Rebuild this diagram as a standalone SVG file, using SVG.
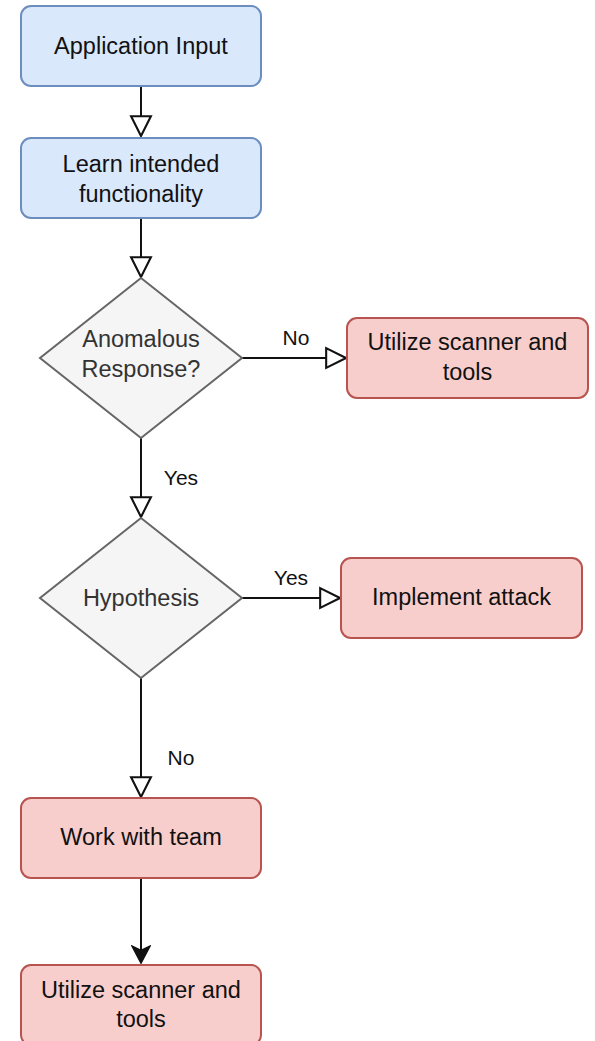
<svg xmlns="http://www.w3.org/2000/svg" width="595" height="1041" viewBox="0 0 595 1041">
  <style>
    .blue { fill: #dae8fc; stroke: #6c8ebf; stroke-width: 2; }
    .red { fill: #f8cecc; stroke: #b85450; stroke-width: 2; }
    .gray { fill: #f5f5f5; stroke: #666666; stroke-width: 2; }
    .txt { font-family: "Liberation Sans", Arial, sans-serif; font-size: 23.5px; fill: #111111; text-anchor: middle; }
    .dtxt { font-family: "Liberation Sans", Arial, sans-serif; font-size: 23.5px; fill: #333333; text-anchor: middle; }
    .lbl { font-family: "Liberation Sans", Arial, sans-serif; font-size: 21px; fill: #111111; text-anchor: middle; }
    .edge { fill: none; stroke: #111111; stroke-width: 2; }
  </style>
  <defs>
    <marker id="open" markerUnits="userSpaceOnUse" markerWidth="24" markerHeight="24" viewBox="-2 -2 23 23" refX="19" refY="9.5" orient="auto">
      <path d="M0,0 L19,9.5 L0,19 Z" fill="#ffffff" stroke="#111111" stroke-width="2" stroke-linejoin="miter"/>
    </marker>
    <marker id="solid" markerUnits="userSpaceOnUse" markerWidth="20" markerHeight="20" viewBox="-1 -1 19 19" refX="16" refY="8.5" orient="auto">
      <path d="M0,0 L16,8.5 L0,17 L4,8.5 Z" fill="#111111" stroke="#111111" stroke-width="1.5" stroke-linejoin="miter"/>
    </marker>
  </defs>

  <!-- connectors -->
  <g id="connectors">
    <path class="edge" d="M141,87 L141,136" marker-end="url(#open)"/>
    <path class="edge" d="M141,218 L141,277" marker-end="url(#open)"/>
    <path class="edge" d="M242,358 L346,358" marker-end="url(#open)"/>
    <text class="lbl" x="296" y="345">No</text>
    <path class="edge" d="M141,438 L141,517" marker-end="url(#open)"/>
    <text class="lbl" x="181" y="485">Yes</text>
    <path class="edge" d="M242,598 L340,598" marker-end="url(#open)"/>
    <text class="lbl" x="291" y="585">Yes</text>
    <path class="edge" d="M141,678 L141,797" marker-end="url(#open)"/>
    <text class="lbl" x="181" y="765">No</text>
    <path class="edge" d="M141,878 L141,963" marker-end="url(#solid)"/>
  </g>

  <g id="application-input">
    <rect class="blue" x="21" y="6" width="240" height="80" rx="10"/>
    <text class="txt" x="141" y="54">Application Input</text>
  </g>

  <g id="learn-functionality">
    <rect class="blue" x="21" y="138" width="240" height="80" rx="10"/>
    <text class="txt" x="141" y="172">Learn intended</text>
    <text class="txt" x="141" y="202">functionality</text>
  </g>

  <g id="anomalous-response">
    <polygon class="gray" points="141,278 242,358 141,438 40,358"/>
    <text class="dtxt" x="141" y="347">Anomalous</text>
    <text class="dtxt" x="141" y="377">Response?</text>
  </g>

  <g id="scanner-tools-1">
    <rect class="red" x="347" y="318" width="241" height="80" rx="10"/>
    <text class="txt" x="467.5" y="350">Utilize scanner and</text>
    <text class="txt" x="467.5" y="380">tools</text>
  </g>

  <g id="hypothesis">
    <polygon class="gray" points="141,518 242,598 141,678 40,598"/>
    <text class="dtxt" x="141" y="606">Hypothesis</text>
  </g>

  <g id="implement-attack">
    <rect class="red" x="341" y="558" width="241" height="80" rx="10"/>
    <text class="txt" x="461.5" y="605">Implement attack</text>
  </g>

  <g id="work-with-team">
    <rect class="red" x="21" y="798" width="240" height="80" rx="10"/>
    <text class="txt" x="141" y="845">Work with team</text>
  </g>

  <g id="scanner-tools-2">
    <rect class="red" x="21" y="965" width="240" height="80" rx="10"/>
    <text class="txt" x="141" y="998">Utilize scanner and</text>
    <text class="txt" x="141" y="1027">tools</text>
  </g>
</svg>
